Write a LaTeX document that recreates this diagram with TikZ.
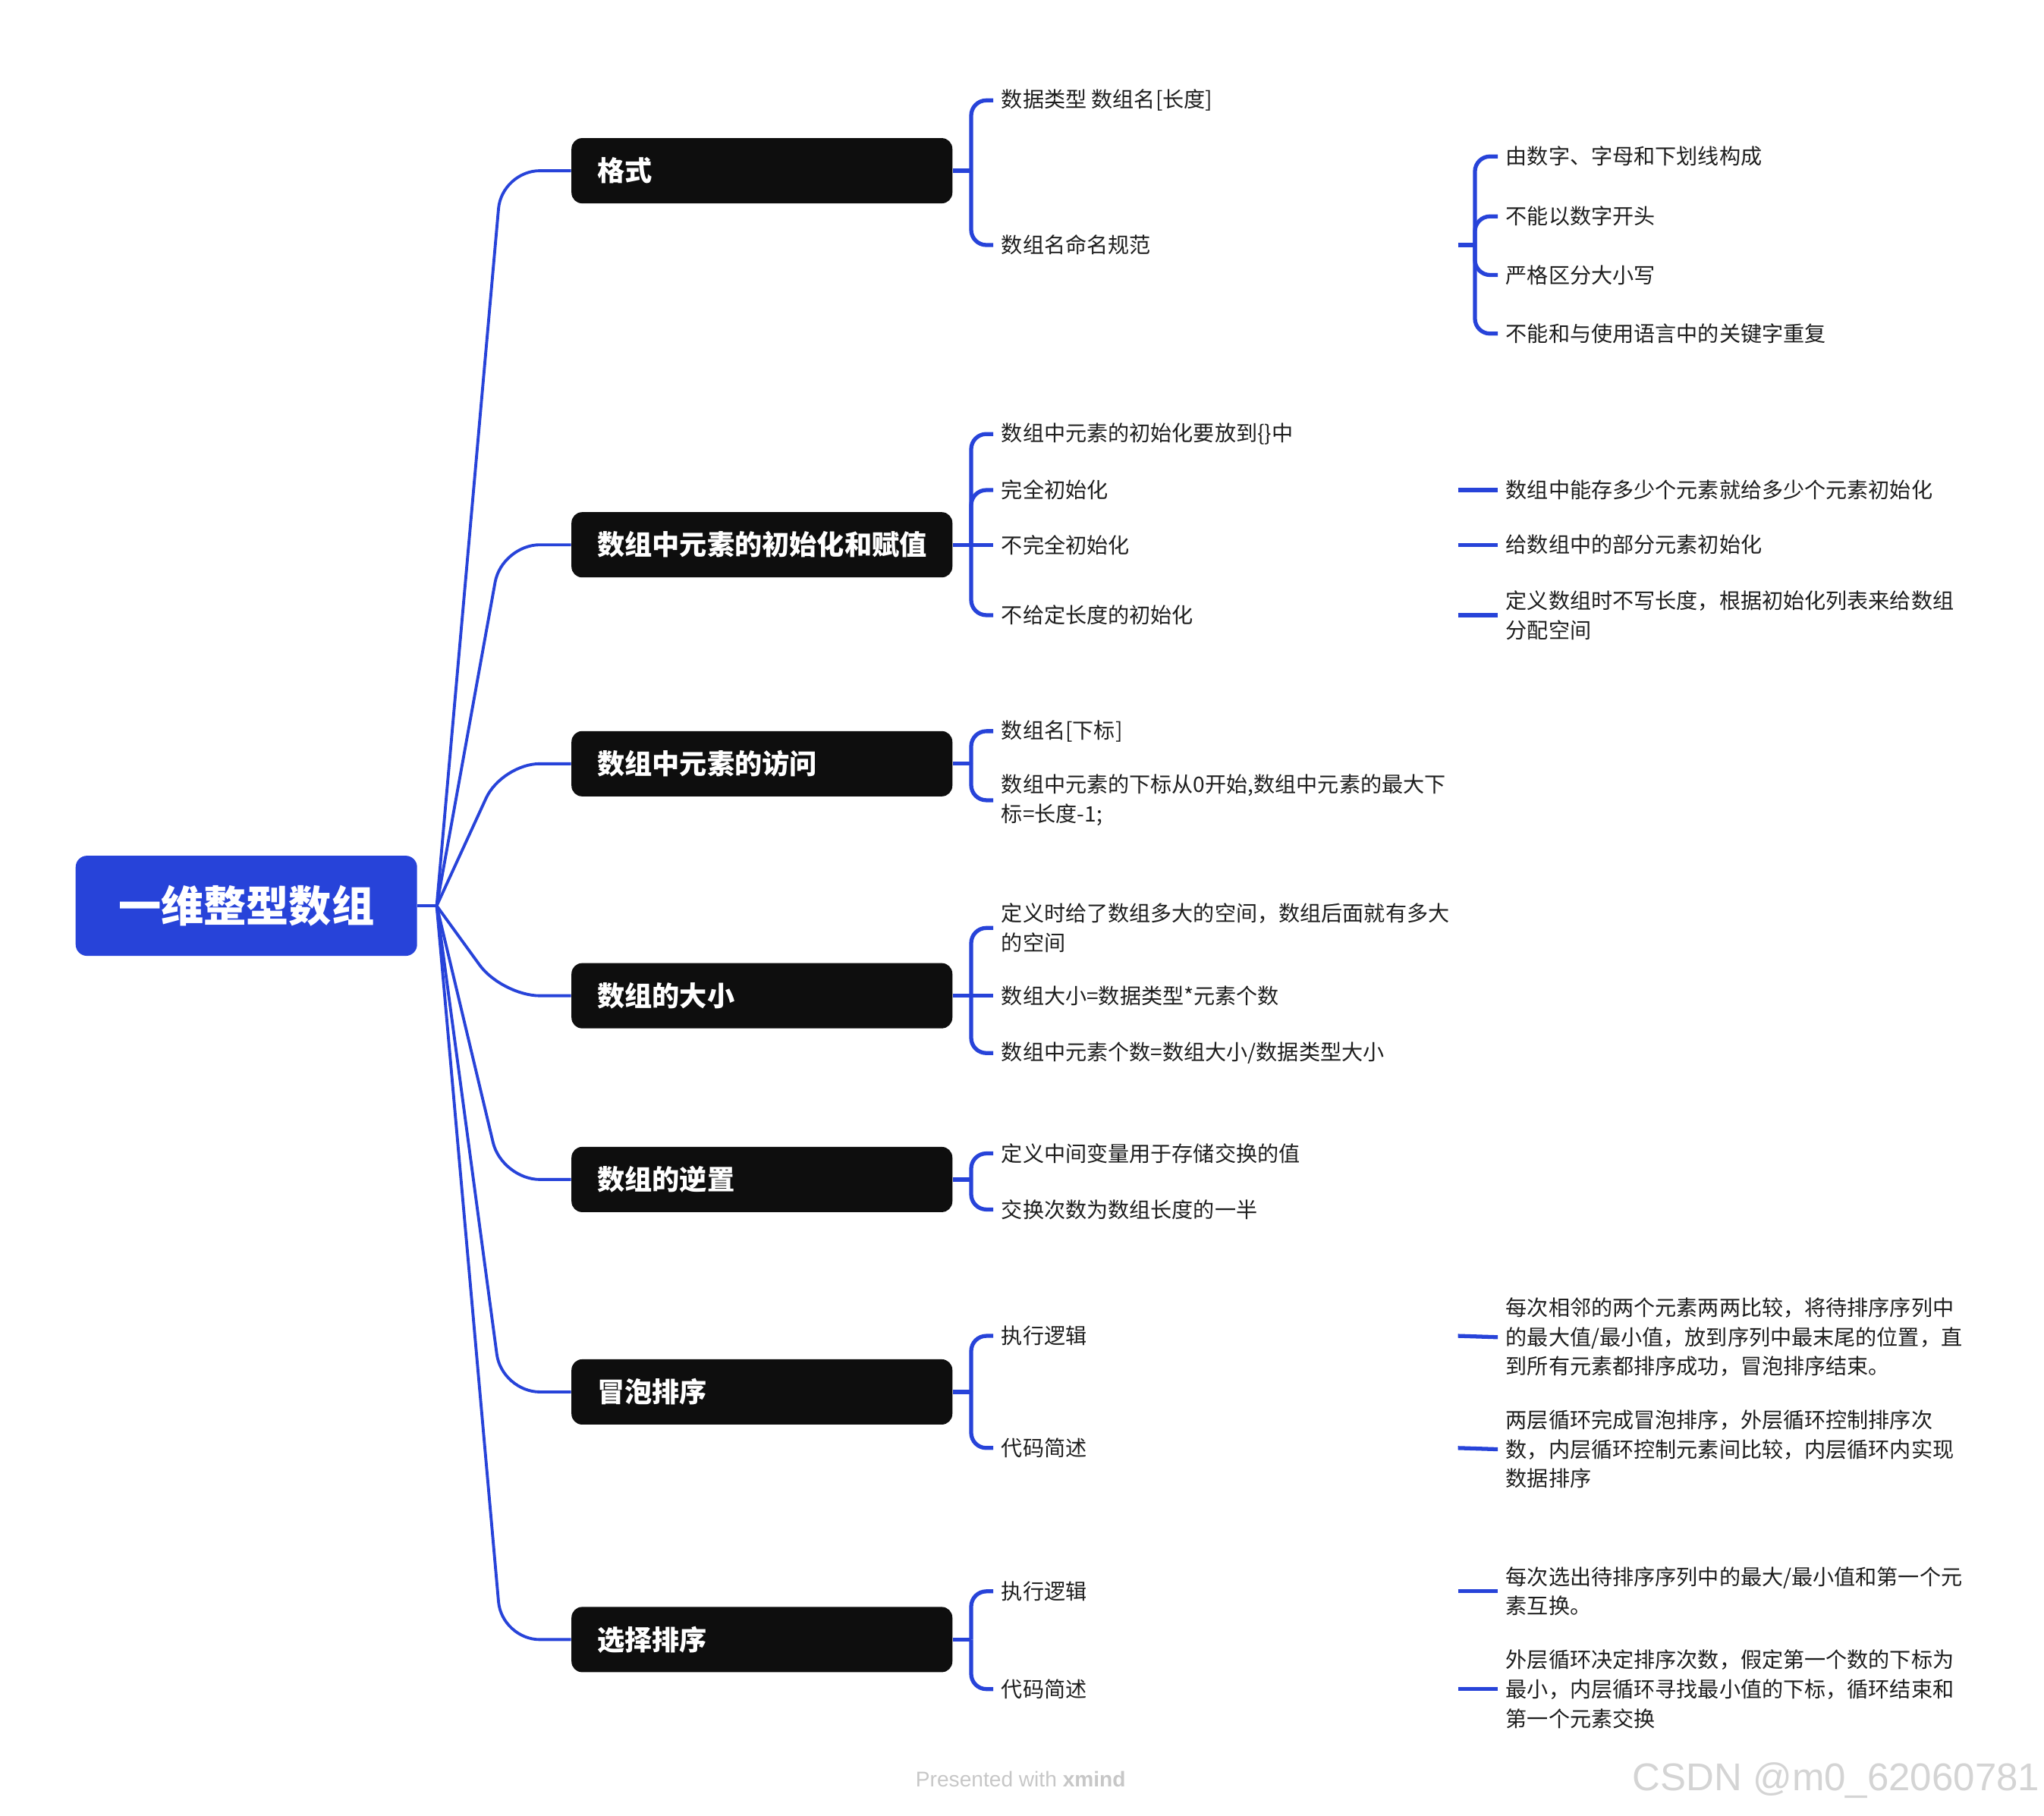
\documentclass[tikz,border=0pt]{standalone}
\usepackage{fontspec}
\setmainfont{Noto Sans CJK SC}
\newfontfamily\latinsans{Liberation Sans}
\usepackage{xcolor}
\usepackage{tikz}

\definecolor{mapblue}{HTML}{2743D9}
\definecolor{topicblack}{HTML}{0E0E0E}
\definecolor{leaftext}{HTML}{1E1E1E}

\begin{document}
\begin{tikzpicture}[
  x=0.17181mm, y=-0.17181mm,
  rootbox/.style={fill=mapblue, rounded corners=1.5mm, minimum width=45mm, minimum height=13.2mm, text=white, font=\bfseries\fontsize{16}{19}\selectfont},
  topic/.style={fill=topicblack, rounded corners=1.4mm, anchor=west, text width=43.4mm, inner xsep=3.4mm, minimum height=8.6mm, align=left, text=white, font=\bfseries\fontsize{10.3}{12}\selectfont},
  leaf/.style={anchor=west, inner xsep=1mm, inner ysep=0.5mm, align=left, text=leaftext, font=\fontsize{8}{11}\selectfont},
  mid/.style={leaf, text width=59.1mm},
  trunk/.style={draw=mapblue, line width=1.1pt, rounded corners=5mm},
  branch/.style={draw=mapblue, line width=1.5pt, rounded corners=2mm}
]
\useasboundingbox (0,0) rectangle (1568,1393);

% root and main topics
\node[rootbox] (root) at (189,695) {一维整型数组};
\coordinate (hub) at (335,695);

\node[topic] (fmt) at (438,131) {格式};
\node[topic] (init) at (438,418) {数组中元素的初始化和赋值};
\node[topic] (acc) at (438,586) {数组中元素的访问};
\node[topic] (size) at (438,764) {数组的大小};
\node[topic] (rev) at (438,905) {数组的逆置};
\node[topic] (bub) at (438,1068) {冒泡排序};
\node[topic] (sel) at (438,1258) {选择排序};

\draw[trunk] (root.east) -- (hub);
\draw[trunk] (hub) -- (385,0 |- fmt.west) -- (fmt.west);
\draw[trunk] (hub) -- (385,0 |- init.west) -- (init.west);
\draw[trunk] (hub) -- (385,0 |- acc.west) -- (acc.west);
\draw[trunk] (hub) -- (385,0 |- size.west) -- (size.west);
\draw[trunk] (hub) -- (385,0 |- rev.west) -- (rev.west);
\draw[trunk] (hub) -- (385,0 |- bub.west) -- (bub.west);
\draw[trunk] (hub) -- (385,0 |- sel.west) -- (sel.west);

% format
\node[leaf] (fmt1) at (762,77) {数据类型 数组名[长度]};
\node[mid] (fmt2) at (762,188) {数组名命名规范};
\node[leaf] (name1) at (1149,120) {由数字、字母和下划线构成};
\node[leaf] (name2) at (1149,166) {不能以数字开头};
\node[leaf] (name3) at (1149,211) {严格区分大小写};
\node[leaf] (name4) at (1149,256) {不能和与使用语言中的关键字重复};

\draw[branch] (fmt.east) -- ++(14,0) coordinate (fmtj);
\draw[branch] (fmtj) |- (fmt1.west);
\draw[branch] (fmtj) |- (fmt2.west);
\draw[branch] (fmt2.east) -- ++(13,0) coordinate (namej);
\draw[branch] (namej) |- (name1.west);
\draw[branch] (namej) |- (name2.west);
\draw[branch] (namej) |- (name3.west);
\draw[branch] (namej) |- (name4.west);

% initialisation
\node[leaf] (init1) at (762,333) {数组中元素的初始化要放到\{\}中};
\node[mid] (init2) at (762,376) {完全初始化};
\node[mid] (init3) at (762,418) {不完全初始化};
\node[mid] (init4) at (762,472) {不给定长度的初始化};
\node[leaf] (init2a) at (1149,376) {数组中能存多少个元素就给多少个元素初始化};
\node[leaf] (init3a) at (1149,418) {给数组中的部分元素初始化};
\node[leaf] (init4a) at (1149,472) {定义数组时不写长度，根据初始化列表来给数组\\分配空间};

\draw[branch] (init.east) -- ++(14,0) coordinate (initj);
\draw[branch] (initj) |- (init1.west);
\draw[branch] (initj) |- (init2.west);
\draw[branch] (initj) -- (init3.west);
\draw[branch] (initj) |- (init4.west);
\draw[branch] (init2.east) -- (init2a.west);
\draw[branch] (init3.east) -- (init3a.west);
\draw[branch] (init4.east) -- (init4a.west);

% access
\node[leaf] (acc1) at (762,561) {数组名[下标]};
\node[leaf] (acc2) at (762,614) {数组中元素的下标从0开始,数组中元素的最大下\\标=长度-1;};

\draw[branch] (acc.east) -- ++(14,0) coordinate (accj);
\draw[branch] (accj) |- (acc1.west);
\draw[branch] (accj) |- (acc2.west);

% size
\node[leaf] (size1) at (762,712) {定义时给了数组多大的空间，数组后面就有多大\\的空间};
\node[leaf] (size2) at (762,764) {数组大小=数据类型*元素个数};
\node[leaf] (size3) at (762,808) {数组中元素个数=数组大小/数据类型大小};

\draw[branch] (size.east) -- ++(14,0) coordinate (sizej);
\draw[branch] (sizej) |- (size1.west);
\draw[branch] (sizej) -- (size2.west);
\draw[branch] (sizej) |- (size3.west);

% reverse
\node[leaf] (rev1) at (762,885) {定义中间变量用于存储交换的值};
\node[leaf] (rev2) at (762,928) {交换次数为数组长度的一半};

\draw[branch] (rev.east) -- ++(14,0) coordinate (revj);
\draw[branch] (revj) |- (rev1.west);
\draw[branch] (revj) |- (rev2.west);

% bubble sort
\node[mid] (bub1) at (762,1025) {执行逻辑};
\node[mid] (bub2) at (762,1111) {代码简述};
\node[leaf] (bub1a) at (1149,1026) {每次相邻的两个元素两两比较，将待排序序列中\\的最大值/最小值，放到序列中最末尾的位置，直\\到所有元素都排序成功，冒泡排序结束。};
\node[leaf] (bub2a) at (1149,1112) {两层循环完成冒泡排序，外层循环控制排序次\\数，内层循环控制元素间比较，内层循环内实现\\数据排序};

\draw[branch] (bub.east) -- ++(14,0) coordinate (bubj);
\draw[branch] (bubj) |- (bub1.west);
\draw[branch] (bubj) |- (bub2.west);
\draw[branch] (bub1.east) -- (bub1a.west);
\draw[branch] (bub2.east) -- (bub2a.west);

% selection sort
\node[mid] (sel1) at (762,1221) {执行逻辑};
\node[mid] (sel2) at (762,1296) {代码简述};
\node[leaf] (sel1a) at (1149,1221) {每次选出待排序序列中的最大/最小值和第一个元\\素互换。};
\node[leaf] (sel2a) at (1149,1296) {外层循环决定排序次数，假定第一个数的下标为\\最小，内层循环寻找最小值的下标，循环结束和\\第一个元素交换};

\draw[branch] (sel.east) -- ++(14,0) coordinate (selj);
\draw[branch] (selj) |- (sel1.west);
\draw[branch] (selj) |- (sel2.west);
\draw[branch] (sel1.east) -- (sel1a.west);
\draw[branch] (sel2.east) -- (sel2a.west);

% footer
\node[font=\latinsans\fontsize{8}{10}\selectfont, text=black!22] (credit) at (783,1365) {Presented with \textbf{xmind}};
\node[anchor=east, inner sep=0pt, font=\latinsans\fontsize{14.5}{17}\selectfont, text=black!17] (mark) at (1565,1366) {CSDN @m0\_62060781};
\end{tikzpicture}
\end{document}
